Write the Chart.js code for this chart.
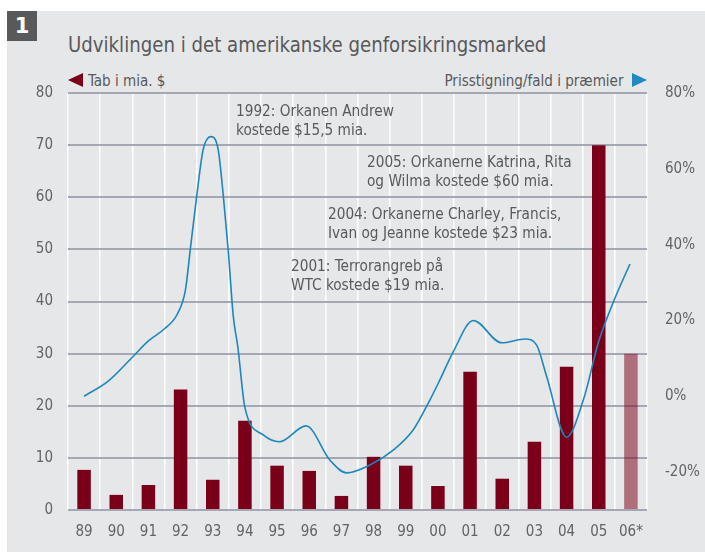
<!DOCTYPE html>
<html>
<head>
<meta charset="utf-8">
<script src="https://cdn.jsdelivr.net/npm/chart.js@4.4.1/dist/chart.umd.min.js"></script>
<style>
  html, body { margin: 0; padding: 0; background: #fff; }
  body { width: 705px; height: 552px; position: relative; overflow: hidden;
         font-family: "DejaVu Sans Condensed", "DejaVu Sans", sans-serif; color: #58595b; }
  #panel { position: absolute; left: 7px; top: 11px; width: 698px; height: 541px; background: #e6e7e9; }
  #num { position: absolute; left: 7px; top: 11px; width: 30px; height: 30px; background: #58595b;
         color: #fff; font: bold 21px "DejaVu Sans", sans-serif; text-align: center; line-height: 30px; }
  #title { position: absolute; left: 68px; top: 31px; font-size: 22px; line-height: 28px; color: #58595b;
           white-space: nowrap; transform: scaleX(0.917); transform-origin: 0 0; }
  .sub { position: absolute; top: 70px; font-size: 16px; line-height: 22px; color: #58595b; white-space: nowrap; }
  .note { position: absolute; font-size: 16px; line-height: 19px; color: #58595b; white-space: nowrap;
          transform: scaleX(0.95); transform-origin: 0 0; }
  .sq { display: inline-block; transform: scaleX(0.94); }
  .tri { display: inline-block; width: 0; height: 0; vertical-align: -1px; }
  #chartBox { position: absolute; left: 0; top: 0; width: 705px; height: 552px; }
</style>
</head>
<body>
<div id="panel"></div>
<div id="num">1</div>
<div id="title">Udviklingen i det amerikanske genforsikringsmarked</div>
<div class="sub" style="left:68px;"><span class="tri" style="border-top:7px solid transparent;border-bottom:7px solid transparent;border-right:15px solid #7a0019;margin-right:5px;"></span><span class="sq" style="transform-origin:0 50%;">Tab i mia. $</span></div>
<div class="sub" style="right:58px;"><span class="sq" style="transform-origin:100% 50%;">Prisstigning/fald i præmier</span><span class="tri" style="border-top:7px solid transparent;border-bottom:7px solid transparent;border-left:15px solid #1f8ac0;margin-left:9px;"></span></div>
<div id="chartBox"><canvas id="chart" width="705" height="552"></canvas></div>
<div class="note" style="left:236px;top:101px;">1992: Orkanen Andrew<br>kostede $15,5 mia.</div>
<div class="note" style="left:367px;top:152px;">2005: Orkanerne Katrina, Rita<br>og Wilma kostede $60 mia.</div>
<div class="note" style="left:328px;top:204px;">2004: Orkanerne Charley, Francis,<br>Ivan og Jeanne kostede $23 mia.</div>
<div class="note" style="left:291px;top:256px;">2001: Terrorangreb på<br>WTC kostede $19 mia.</div>

<script>
// --- data ---
const years = ['89', '90', '91', '92', '93', '94', '95', '96', '97', '98', '99', '00', '01', '02', '03', '04', '05', '06*'];
const lossBn = [7.7, 2.9, 4.8, 23.1, 5.8, 17.1, 8.5, 7.5, 2.7, 10.2, 8.5, 4.6, 26.5, 6.0, 13.1, 27.5, 70, 30];
const estimated = ['06*'];

// premium change curve (x in years, y in %)
const premiumYear = [1989, 1989.75, 1990.5, 1991, 1991.5, 1991.9, 1992.15, 1992.3, 1992.5, 1992.7, 1992.94,
    1993.17, 1993.33, 1993.48, 1993.64, 1993.78, 1994, 1994.57, 1995.07, 1995.9, 1996.64, 1997.16, 1997.89,
    1998.61, 1999.23, 1999.75, 2000.06, 2000.48, 2001.1, 2001.98, 2002.71, 2003.07, 2003.38, 2004, 2004.52,
    2005, 2005.48, 2005.97];
const premiumPct = [0, 4, 10.3, 14.6, 17.8, 21.7, 28, 38.6, 52.7, 65, 68.5,
    65, 52.7, 38.6, 21, 13, -3, -10.2, -12, -7.8, -16.8, -20.2, -18.1,
    -14.2, -8.9, -1, 4.3, 11.8, 20, 14.1, 15.1, 13.5, 5.2, -10.8, -1,
    14.5, 25.4, 34.9];

const pctTicks = [-20, 0, 20, 40, 60, 80];

const BAR = '#7a0019';
const BAR_EST = 'rgba(122, 0, 25, 0.52)';
const LINE = '#1f86bb';
const TXT = '#626366';

Chart.defaults.font.family = '"DejaVu Sans Condensed", "DejaVu Sans", sans-serif';
Chart.defaults.font.size = 15;
Chart.defaults.color = TXT;

new Chart(document.getElementById('chart').getContext('2d'), {
    type: 'bar',
    data: {
        labels: years,
        datasets: [{
            type: 'line',
            label: 'Prisstigning/fald i præmier',
            data: premiumYear.map((x, i) => ({ x: x, y: premiumPct[i] })),
            xAxisID: 'x2',
            yAxisID: 'y2',
            borderColor: LINE,
            borderWidth: 1.6,
            pointRadius: 0,
            cubicInterpolationMode: 'monotone',
            order: 0
        }, {
            label: 'Tab i mia. $',
            data: lossBn,
            xAxisID: 'x',
            yAxisID: 'y',
            backgroundColor: years.map(y => estimated.includes(y) ? BAR_EST : BAR),
            grouped: false,
            barPercentage: 0.42,
            categoryPercentage: 1,
            order: 1
        }]
    },
    options: {
        responsive: false,
        animation: false,
        layout: { padding: { top: 93, left: 0, right: 0, bottom: 0 } },
        plugins: { legend: { display: false }, tooltip: { enabled: false } },
        scales: {
            x: {
                type: 'category',
                offset: true,
                grid: { offset: true, color: '#ffffff', lineWidth: 1.5, drawTicks: false },
                border: { display: false },
                ticks: { padding: 13, color: TXT, maxRotation: 0, minRotation: 0, autoSkip: false },
                afterFit: s => { s.height = 42; s.paddingLeft = 0; s.paddingRight = 0; }
            },
            x2: {
                type: 'linear',
                display: false,
                offset: false,
                min: 1988.5,
                max: 2006.5
            },
            y: {
                position: 'left',
                min: 0,
                max: 80,
                ticks: { stepSize: 10, padding: 15, color: TXT },
                grid: { color: '#a4a8b4', lineWidth: 2, drawTicks: false },
                border: { display: false },
                afterFit: s => { s.width = 68; }
            },
            y2: {
                position: 'right',
                min: -30,
                max: 80,
                grid: { display: false, drawTicks: false },
                border: { display: false },
                ticks: { padding: 18, color: TXT, callback: v => v + '%' },
                afterBuildTicks: s => { s.ticks = pctTicks.map(v => ({ value: v })); },
                afterFit: s => { s.width = 58; }
            }
        }
    }
});
</script>
</body>
</html>
